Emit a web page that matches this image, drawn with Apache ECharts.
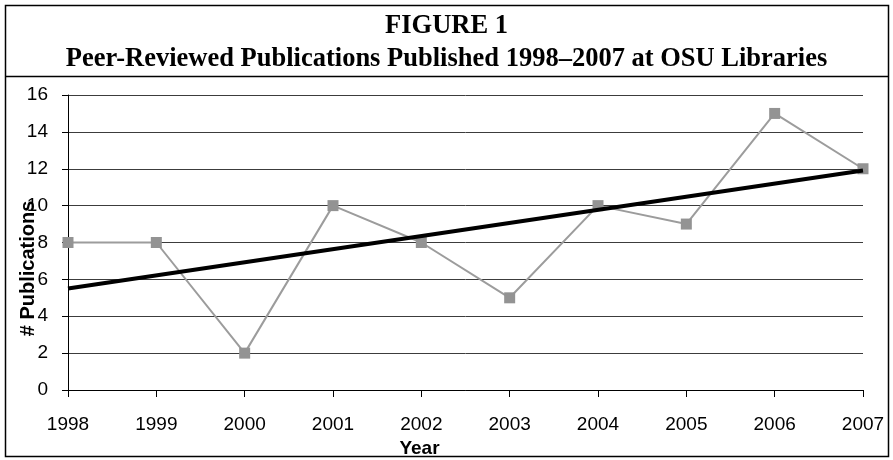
<!DOCTYPE html>
<html><head><meta charset="utf-8">
<script src="https://cdn.jsdelivr.net/npm/echarts@6/dist/echarts.min.js"></script>
<style>html,body{margin:0;padding:0;background:#fff}#c{width:893px;height:460px}</style>
</head><body><div id="c"></div>
<script>
const years = ['1998','1999','2000','2001','2002','2003','2004','2005','2006','2007'];
const publications = [8, 8, 2, 10, 8, 5, 10, 9, 15, 12];
const trendStart = 5.5;   // trend line value at 1998
const trendEnd = 11.9;    // trend line value at 2007
const yTicks = [0, 2, 4, 6, 8, 10, 12, 14, 16];

const chart = echarts.init(document.getElementById('c'));
chart.setOption({
  animation: false,
  backgroundColor: '#fff',
  title: [
    {text: 'FIGURE 1', left: 'center', top: 8,
     textStyle: {fontFamily: 'Liberation Serif', fontWeight: 'bold', fontSize: 26.5, color: '#000'}},
    {text: 'Peer-Reviewed Publications Published 1998\u20132007 at OSU Libraries', left: 'center', top: 41,
     textStyle: {fontFamily: 'Liberation Serif', fontWeight: 'bold', fontSize: 26.5, color: '#000'}}
  ],
  graphic: [
    {type: 'rect', shape: {x: 5.5, y: 5.5, width: 883, height: 451}, style: {fill: 'none', stroke: '#000', lineWidth: 1.5}, silent: true},
    {type: 'line', shape: {x1: 5.5, y1: 76.5, x2: 888.5, y2: 76.5}, style: {stroke: '#000', lineWidth: 1.5}, silent: true}
  ],
  grid: {left: 68, right: 30, top: 95, bottom: 70, containLabel: false, outerBoundsMode: 'none'},
  xAxis: {
    type: 'category', data: years, boundaryGap: false,
    axisLine: {lineStyle: {color: '#000', width: 1}},
    axisTick: {show: true, length: 7, lineStyle: {color: '#000'}},
    axisLabel: {fontFamily: 'Liberation Sans', fontSize: 19, color: '#000', margin: 25},
    name: 'Year', nameLocation: 'middle', nameGap: 49, nameMoveOverlap: false,
    nameTextStyle: {fontFamily: 'Liberation Sans', fontWeight: 'bold', fontSize: 19, color: '#000', padding: [0, 92, 0, 0]}
  },
  yAxis: {
    type: 'value', min: yTicks[0], max: yTicks[yTicks.length - 1], interval: 2,
    axisLine: {show: true, lineStyle: {color: '#000', width: 1}},
    axisTick: {show: true, length: 6, lineStyle: {color: '#000'}},
    axisLabel: {fontFamily: 'Liberation Sans', fontSize: 19, color: '#000', margin: 20},
    splitLine: {show: true, lineStyle: {color: '#3c3c3c', width: 1}},
    name: '# Publications', nameLocation: 'middle', nameGap: 30, nameMoveOverlap: false,
    nameTextStyle: {fontFamily: 'Liberation Sans', fontWeight: 'bold', fontSize: 20, color: '#000', padding: [0, 52, 0, 0]}
  },
  series: [
    {type: 'line', data: publications, symbol: 'rect', symbolSize: 11,
     lineStyle: {color: '#9c9c9c', width: 2}, itemStyle: {color: '#939393'}, z: 3},
    {type: 'line', data: [[years[0], trendStart], [years[years.length - 1], trendEnd]], symbol: 'none',
     lineStyle: {color: '#000', width: 4}, z: 4}
  ]
});
</script></body></html>
